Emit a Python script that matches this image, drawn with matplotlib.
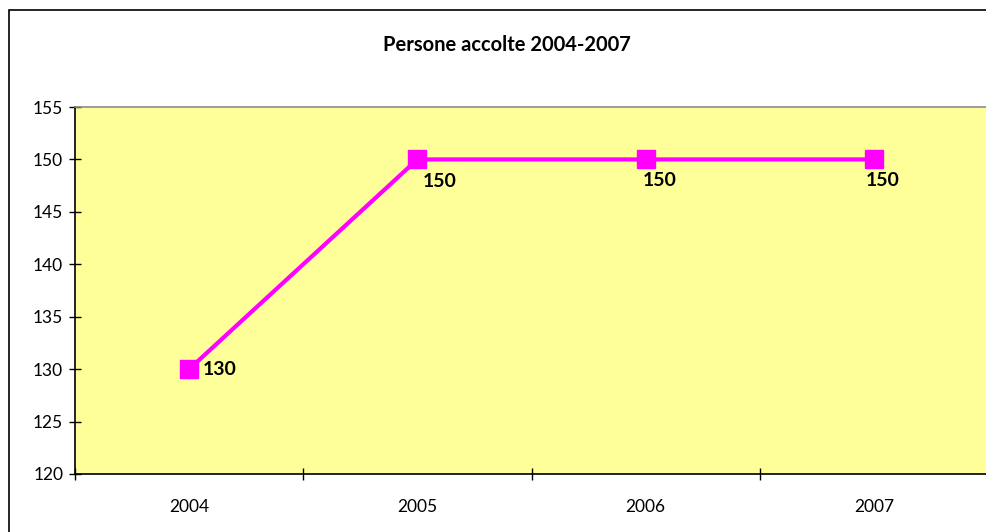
import matplotlib.pyplot as plt
from matplotlib.patches import Rectangle

# data
years = ['2004', '2005', '2006', '2007']
persone = [130, 150, 150, 150]
y_ticks = [120, 125, 130, 135, 140, 145, 150, 155]

# label offsets in points (dx, dy), ha, va
label_pos = [((10, 0), 'left', 'center'),
             ((4, -10), 'left', 'top'),
             ((-2, -9), 'left', 'top'),
             ((-6, -9), 'left', 'top')]

plt.rcParams['font.family'] = ['Lato', 'DejaVu Sans']

fig = plt.figure(figsize=(9.86, 5.32), dpi=100)
ax = fig.add_axes([75/986, 1 - 474/532, (988 - 75)/986, (474 - 107)/532])

# outer chart border (cropped at right and bottom)
fig.patches.append(Rectangle((9/986, -0.1), 1.2, 1 - 10/532 + 0.1,
                             transform=fig.transFigure, fill=False,
                             edgecolor='black', linewidth=1.2))

ax.set_facecolor('#FFFF99')
x = list(range(len(years)))
ax.plot(x, persone, color='#FF00FF', linewidth=3, marker='s', markersize=12.5,
        clip_on=False, zorder=3)

for i, v in enumerate(persone):
    (dx, dy), ha, va = label_pos[i]
    ax.annotate(str(v), (x[i], v), xytext=(dx, dy), textcoords='offset points',
                ha=ha, va=va, fontsize=14, fontweight='bold', color='black')

ax.set_xlim(-0.5, len(years) - 0.5)
ax.set_ylim(120, 155)
ax.set_yticks(y_ticks)
ax.set_yticklabels([str(t) for t in y_ticks], fontsize=12.5)
ax.set_xticks([i - 0.5 for i in range(len(years) + 1)])
ax.set_xticklabels([])
ax.set_xticks(x, minor=True)
ax.set_xticklabels(years, minor=True, fontsize=12.5)
ax.tick_params(axis='x', which='minor', length=0, pad=18)
ax.tick_params(axis='both', which='major', direction='inout', length=9, width=1)
ax.tick_params(axis='y', pad=4)

ax.spines['left'].set_color('black')
ax.spines['bottom'].set_color('black')
ax.spines['top'].set_color('#8C8C8C')
ax.spines['right'].set_visible(False)
for s in ax.spines.values():
    s.set_linewidth(1.2)

fig.text(507/986, 1 - 45/532, 'Persone accolte 2004-2007', ha='center', va='center',
         fontsize=14.5, fontweight='bold')

fig.savefig('out.png', dpi=100)
